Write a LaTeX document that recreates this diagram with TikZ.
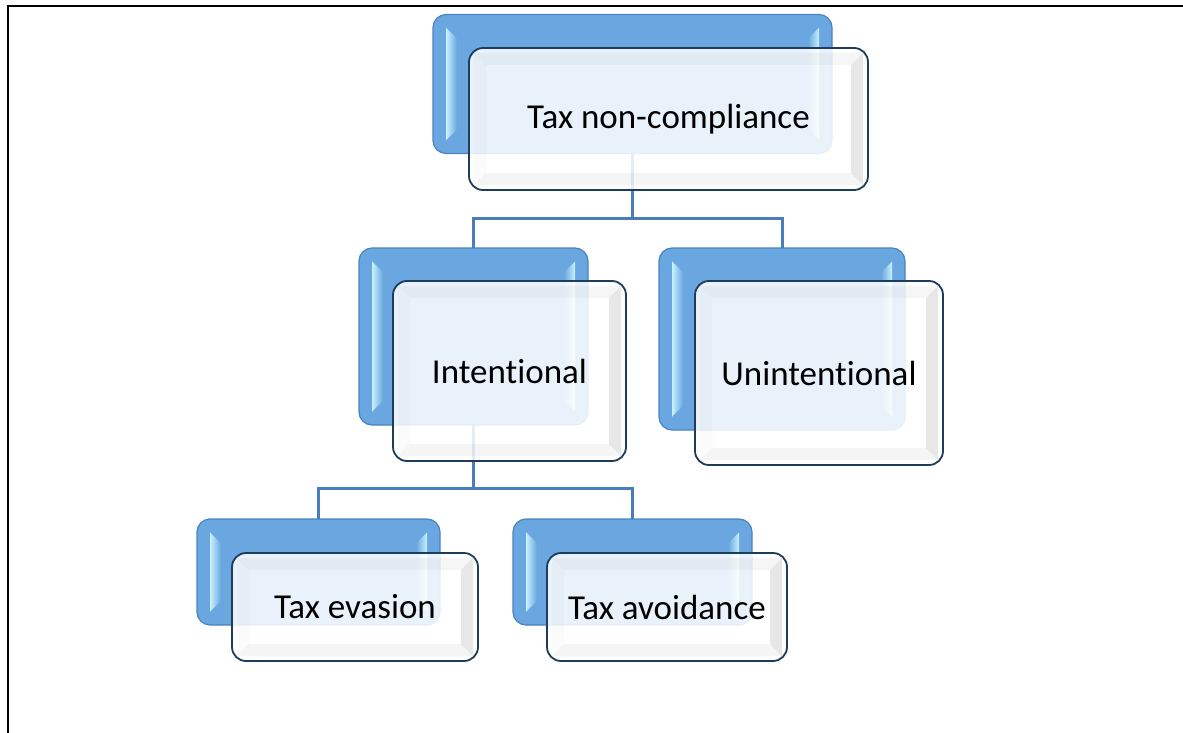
\documentclass[tikz,border=0pt]{standalone}
\usepackage{fontspec}
\setmainfont{Carlito}[Ligatures=NoCommon]
\usetikzlibrary{calc}
\definecolor{boxblue}{HTML}{6AA6E0}
\definecolor{boxedge}{HTML}{4A82C2}
\definecolor{bevlight}{HTML}{C8F2FF}
\definecolor{frontedge}{HTML}{1E3C5C}
\definecolor{linkblue}{HTML}{4A7EBB}
\tikzset{
  backbox/.style={draw=boxedge, line width=1.2pt, fill=boxblue, rounded corners=13pt, inner sep=0pt, outer sep=0pt},
  frontbox/.style={draw=frontedge, line width=1.8pt, fill=white, fill opacity=0.86, text opacity=1, rounded corners=14pt, inner sep=0pt, outer sep=0pt, font=\fontsize{35}{40}\selectfont, align=center},
  link/.style={draw=linkblue, line width=3pt},
  frameline/.style={draw=black, line width=2.2pt},
  bkleft/.style={left color=bevlight, right color=boxblue},
  bkright/.style={left color=boxblue, right color=bevlight},
  bktop/.style={fill=boxblue},
  bkbot/.style={fill=boxblue},
  frleft/.style={fill=black, fill opacity=0.015},
  frright/.style={fill=black, fill opacity=0.09},
  frtop/.style={fill=black, fill opacity=0.03},
  frbot/.style={fill=black, fill opacity=0.04},
}
\newcommand\bevelfaces[7]{%
  \shade[#4] ($(#1.north west)+(#2,#2)$) -- ($(#1.north west)+(#3,#3)$) -- ($(#1.south west)+(#3,-#3)$) -- ($(#1.south west)+(#2,-#2)$) -- cycle;
  \shade[#5] ($(#1.north east)+(-#2,#2)$) -- ($(#1.north east)+(-#3,#3)$) -- ($(#1.south east)+(-#3,-#3)$) -- ($(#1.south east)+(-#2,-#2)$) -- cycle;
  \fill[#6] ($(#1.north west)+(#2,#2)$) -- ($(#1.north east)+(-#2,#2)$) -- ($(#1.north east)+(-#3,#3)$) -- ($(#1.north west)+(#3,#3)$) -- cycle;
  \fill[#7] ($(#1.south west)+(#2,-#2)$) -- ($(#1.south east)+(-#2,-#2)$) -- ($(#1.south east)+(-#3,-#3)$) -- ($(#1.south west)+(#3,-#3)$) -- cycle;
}
\newcommand\frontfaces[7]{%
  \fill[#4] ($(#1.north west)+(#2,#2)$) -- ($(#1.north west)+(#3,#3)$) -- ($(#1.south west)+(#3,-#3)$) -- ($(#1.south west)+(#2,-#2)$) -- cycle;
  \fill[#5] ($(#1.north east)+(-#2,#2)$) -- ($(#1.north east)+(-#3,#3)$) -- ($(#1.south east)+(-#3,-#3)$) -- ($(#1.south east)+(-#2,-#2)$) -- cycle;
  \fill[#6] ($(#1.north west)+(#2,#2)$) -- ($(#1.north east)+(-#2,#2)$) -- ($(#1.north east)+(-#3,#3)$) -- ($(#1.north west)+(#3,#3)$) -- cycle;
  \fill[#7] ($(#1.south west)+(#2,-#2)$) -- ($(#1.south east)+(-#2,-#2)$) -- ($(#1.south east)+(-#3,-#3)$) -- ($(#1.south west)+(#3,-#3)$) -- cycle;
}
\newcommand\backbevel[1]{\bevelfaces{#1}{13}{24}{bkleft}{bkright}{bktop}{bkbot}}
\newcommand\frontbevel[1]{\frontfaces{#1}{5}{17}{frleft}{frright}{frtop}{frbot}}
\begin{document}
\begin{tikzpicture}[x=1pt,y=-1pt]
\useasboundingbox (0,0) rectangle (1183,733);
\draw[frameline] (7.7,733) -- (7.7,6) -- (1183,6);
% back boxes
\node[backbox, minimum width=399pt, minimum height=139pt] (tncB) at (632.5,84) {};
\node[backbox, minimum width=229pt, minimum height=177pt] (intB) at (473.5,336.5) {};
\node[backbox, minimum width=246pt, minimum height=182pt] (unB) at (782,339) {};
\node[backbox, minimum width=243pt, minimum height=106pt] (evB) at (318.5,572) {};
\node[backbox, minimum width=239pt, minimum height=106pt] (avB) at (632.5,572) {};
\backbevel{tncB}
\backbevel{intB}
\backbevel{unB}
\backbevel{evB}
\backbevel{avB}
% connectors
\coordinate (j1) at (632.5,218);
\coordinate (j2) at (473.5,488);
\draw[link] (tncB.south) -- (j1) -| (intB.north);
\draw[link] (j1) -| (unB.north);
\draw[link] (intB.south) -- (j2) -| (evB.north);
\draw[link] (j2) -| (avB.north);
% front boxes
\node[frontbox, minimum width=399pt, minimum height=142pt] (tnc) at (668.5,119) {Tax non-compliance};
\node[frontbox, minimum width=233pt, minimum height=180pt] (int) at (509.5,371) {Intent\kern0pt ional};
\node[frontbox, minimum width=248pt, minimum height=184pt] (un) at (819,373) {Unintent\kern0pt ional};
\node[frontbox, minimum width=246pt, minimum height=108pt] (ev) at (355,607) {Tax evasion};
\node[frontbox, minimum width=240pt, minimum height=108pt] (av) at (667,607) {Tax avoidance};
\frontbevel{tnc}
\frontbevel{int}
\frontbevel{un}
\frontbevel{ev}
\frontbevel{av}
\end{tikzpicture}
\end{document}
